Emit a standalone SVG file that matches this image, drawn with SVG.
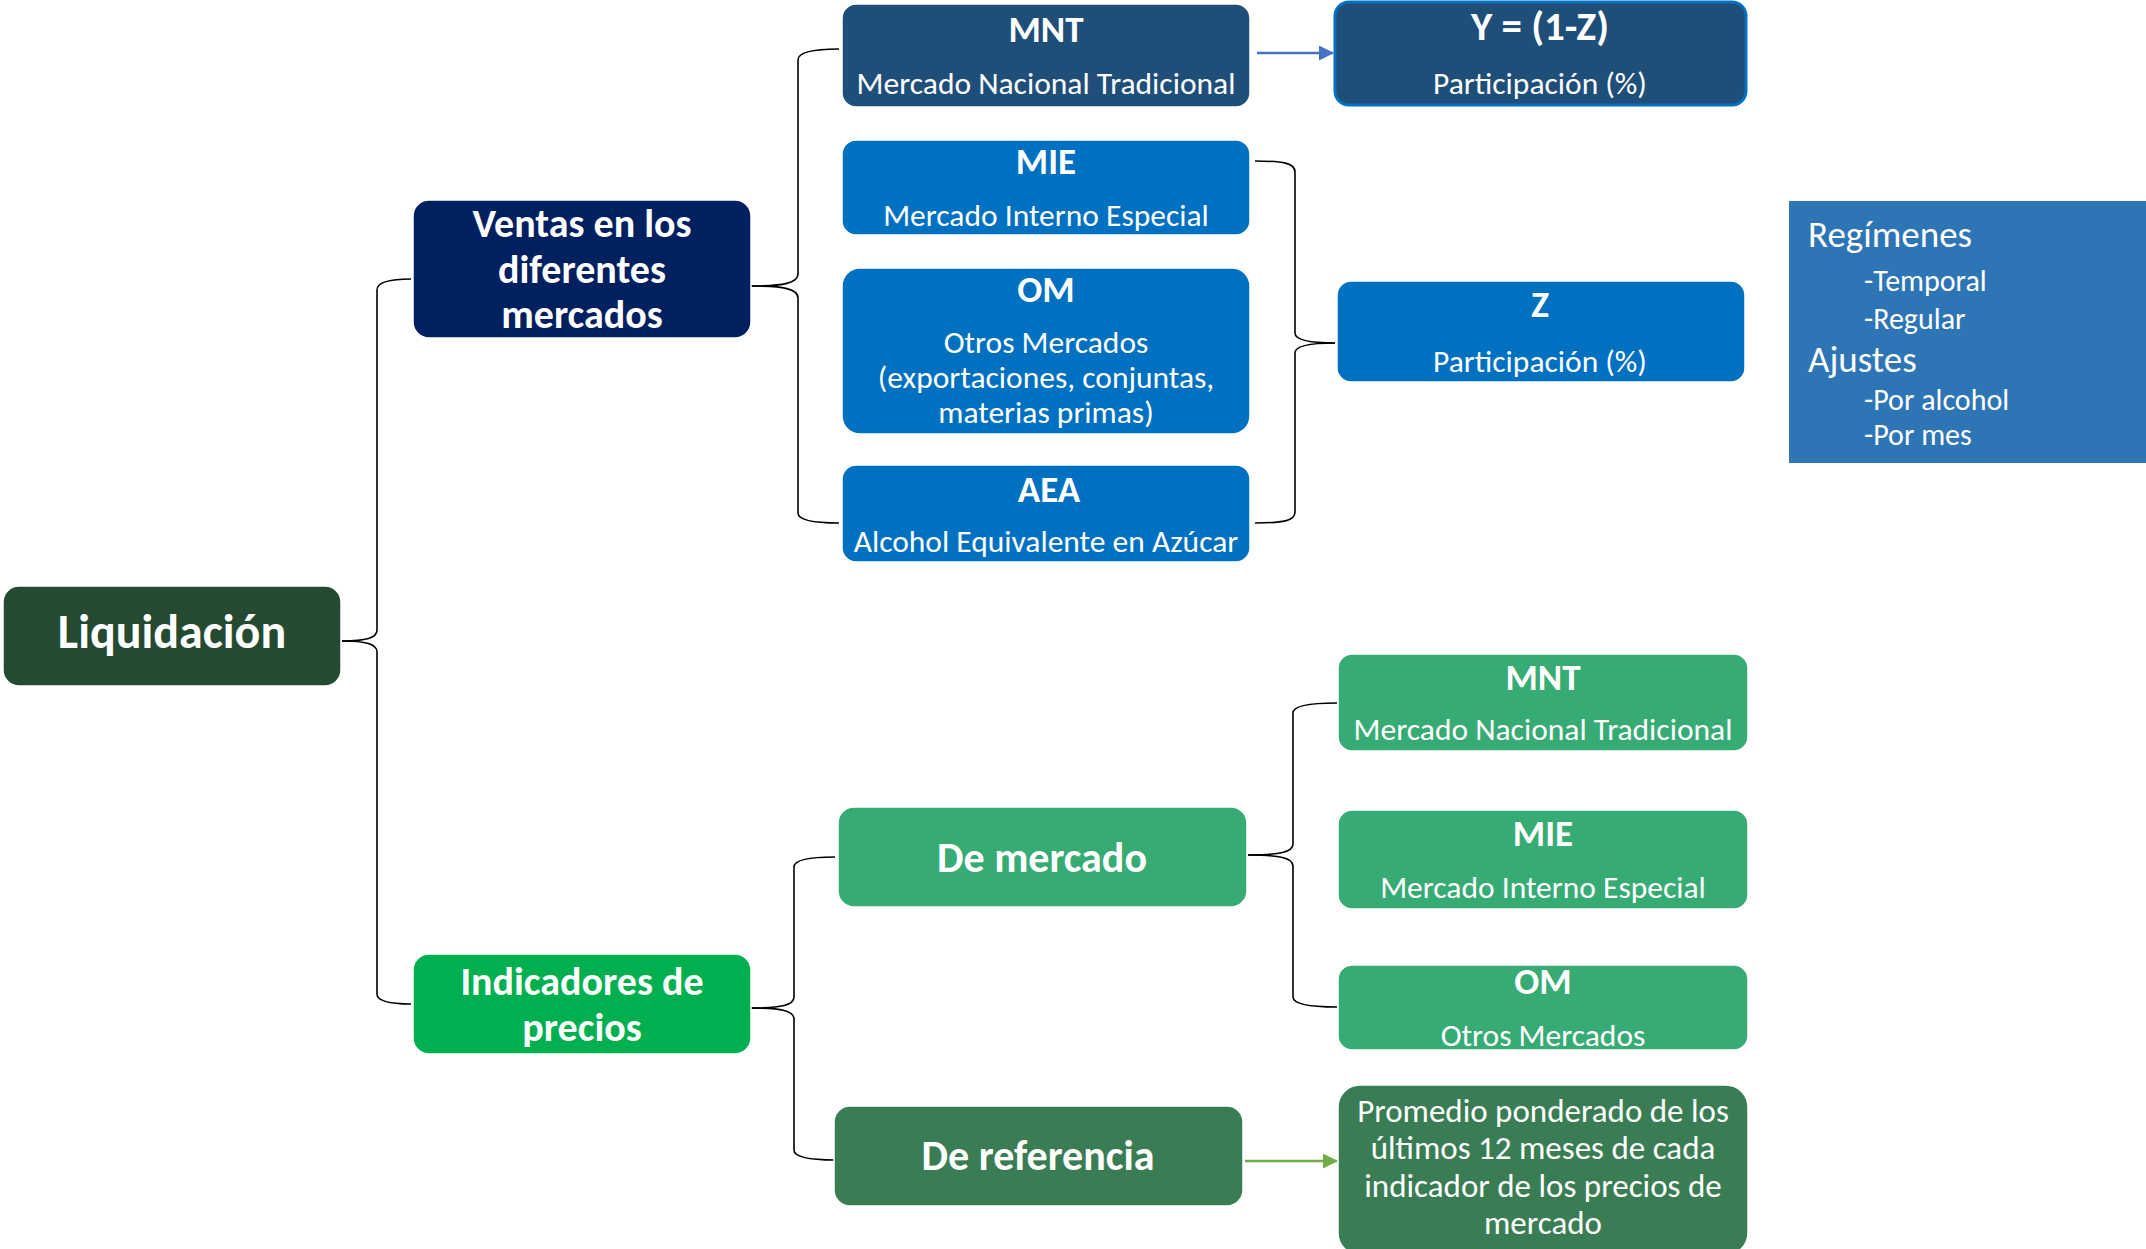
<svg xmlns="http://www.w3.org/2000/svg" width="2146" height="1249" viewBox="0 0 2146 1249">
<style>
text{font-family:Carlito,Lato,"Liberation Sans",sans-serif;fill:#fff;text-anchor:middle}
.b{font-weight:bold}
.t{font-size:37px;font-weight:bold}
.s{font-size:31.5px}
.n{stroke:#fff;stroke-width:1.5}
.c{fill:none;stroke:#000;stroke-width:1.6}
.l{text-anchor:start}
</style>
<defs>
<marker id="ab" markerWidth="15" markerHeight="15" refX="14" refY="7.5" orient="auto" markerUnits="userSpaceOnUse"><path d="M0,0 L15,7.5 L0,15 z" fill="#4472C4"/></marker>
<marker id="ag" markerWidth="15" markerHeight="15" refX="14" refY="7.5" orient="auto" markerUnits="userSpaceOnUse"><path d="M0,0 L15,7.5 L0,15 z" fill="#70AD47"/></marker>
</defs>
<rect width="2146" height="1249" fill="#fff"/>
<g id="connectors">
<path class="c" d="M342,641 C366,641 377,638 377,630 V290 C377,282 390,279 411,279"/>
<path class="c" d="M342,641 C366,641 377,644 377,652 V994 C377,1001 390,1004 411,1004"/>
<path class="c" d="M751,286 C784,286 798,283 798,274 V60 C798,52 815,49 839,49"/>
<path class="c" d="M751,286 C784,286 798,289 798,298 V513 C798,520 815,523 839,523"/>
<path class="c" d="M1255,161 C1283,161 1295,163 1295,172 V333 C1295,340 1310,343 1335,343"/>
<path class="c" d="M1255,523 C1283,523 1295,521 1295,512 V353 C1295,346 1310,343 1335,343"/>
<path class="c" d="M751,1008 C782,1008 794,1005 794,997 V867 C794,860 810,857 835,857"/>
<path class="c" d="M751,1008 C782,1008 794,1011 794,1019 V1150 C794,1157 810,1160 835,1160"/>
<path class="c" d="M1248,855 C1280,855 1293,852 1293,844 V713 C1293,706 1310,703 1337,703"/>
<path class="c" d="M1248,855 C1280,855 1293,858 1293,866 V997 C1293,1004 1310,1007 1337,1007"/>
<path d="M1257,53 H1333" stroke="#4472C4" stroke-width="2.5" fill="none" marker-end="url(#ab)"/>
<path d="M1245,1161 H1337" stroke="#70AD47" stroke-width="2.5" fill="none" marker-end="url(#ag)"/>
</g>
<g id="liquidacion">
<rect class="n" x="3" y="586" width="338" height="100" rx="16" fill="#254A31"/>
<text class="b" x="172" y="648" font-size="48">Liquidación</text>
</g>
<g id="ventas">
<rect class="n" x="413" y="200" width="338" height="138" rx="16" fill="#002060"/>
<text class="b" font-size="40" x="582" y="237">Ventas en los</text>
<text class="b" font-size="40" x="582" y="283">diferentes</text>
<text class="b" font-size="40" x="582" y="328">mercados</text>
</g>
<g id="indicadores">
<rect class="n" x="413" y="954" width="338" height="100" rx="16" fill="#00B050"/>
<text class="b" font-size="40" x="582" y="995">Indicadores de</text>
<text class="b" font-size="40" x="582" y="1041">precios</text>
</g>
<g id="mnt1">
<rect class="n" x="842" y="4" width="408" height="103" rx="14" fill="#1F4E79"/>
<text class="t" x="1046" y="42">MNT</text>
<text class="s" x="1046" y="94">Mercado Nacional Tradicional</text>
</g>
<g id="mie1">
<rect class="n" x="842" y="140" width="408" height="95" rx="14" fill="#0070C0"/>
<text class="t" x="1046" y="174">MIE</text>
<text class="s" x="1046" y="226">Mercado Interno Especial</text>
</g>
<g id="om1">
<rect class="n" x="842" y="268" width="408" height="166" rx="18" fill="#0070C0"/>
<text class="t" x="1046" y="302">OM</text>
<text class="s" x="1046" y="353">Otros Mercados</text>
<text class="s" x="1046" y="388">(exportaciones, conjuntas,</text>
<text class="s" x="1046" y="423">materias primas)</text>
</g>
<g id="aea">
<rect class="n" x="842" y="465" width="408" height="97" rx="14" fill="#0070C0"/>
<text class="t" x="1049" y="502">AEA</text>
<text class="s" x="1046" y="552">Alcohol Equivalente en Azúcar</text>
</g>
<g id="y">
<rect x="1335" y="2" width="411" height="103" rx="14" fill="#1F4E79" stroke="#0070C0" stroke-width="3"/>
<text class="b" font-size="41" x="1540" y="40">Y = (1-Z)</text>
<text class="s" x="1540" y="94">Participación (%)</text>
</g>
<g id="z">
<rect class="n" x="1337" y="281" width="408" height="101" rx="14" fill="#0070C0"/>
<text class="t" x="1540" y="317">Z</text>
<text class="s" x="1540" y="372">Participación (%)</text>
</g>
<g id="regimenes">
<rect x="1789" y="201" width="357" height="262" fill="#2E75B6"/>
<text class="l" x="1808" y="247" font-size="37">Regímenes</text>
<text class="l" x="1864" y="291" font-size="30">-Temporal</text>
<text class="l" x="1864" y="329" font-size="30">-Regular</text>
<text class="l" x="1808" y="372" font-size="37">Ajustes</text>
<text class="l" x="1864" y="410" font-size="30">-Por alcohol</text>
<text class="l" x="1864" y="445" font-size="30">-Por mes</text>
</g>
<g id="demercado">
<rect class="n" x="838" y="807" width="409" height="100" rx="16" fill="#37AB74"/>
<text class="b" font-size="42" x="1042" y="872">De mercado</text>
</g>
<g id="dereferencia">
<rect class="n" x="834" y="1106" width="409" height="100" rx="16" fill="#3A7D55"/>
<text class="b" font-size="42" x="1038" y="1170">De referencia</text>
</g>
<g id="mnt2">
<rect class="n" x="1338" y="654" width="410" height="97" rx="14" fill="#37AB74"/>
<text class="t" x="1543" y="690">MNT</text>
<text class="s" x="1543" y="740">Mercado Nacional Tradicional</text>
</g>
<g id="mie2">
<rect class="n" x="1338" y="810" width="410" height="99" rx="14" fill="#37AB74"/>
<text class="t" x="1543" y="846">MIE</text>
<text class="s" x="1543" y="898">Mercado Interno Especial</text>
</g>
<g id="om2">
<rect class="n" x="1338" y="965" width="410" height="85" rx="14" fill="#37AB74"/>
<text class="t" x="1543" y="994">OM</text>
<text class="s" x="1543" y="1046">Otros Mercados</text>
</g>
<g id="promedio">
<rect class="n" x="1338" y="1085" width="410" height="170" rx="22" fill="#3A7D55"/>
<text font-size="33" x="1543" y="1122">Promedio ponderado de los</text>
<text font-size="33" x="1543" y="1159">últimos 12 meses de cada</text>
<text font-size="33" x="1543" y="1197">indicador de los precios de</text>
<text font-size="33" x="1543" y="1234">mercado</text>
</g>
</svg>
